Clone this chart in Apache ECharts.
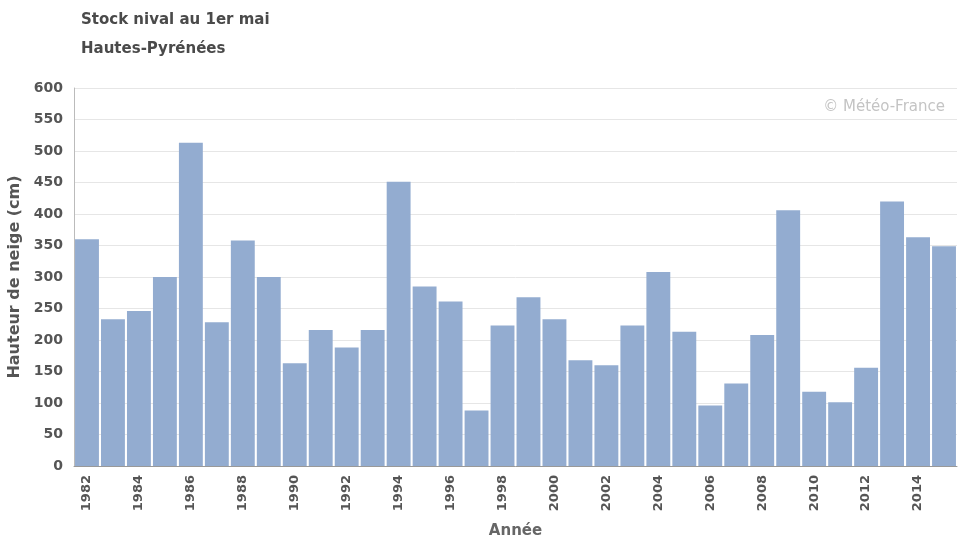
<!DOCTYPE html>
<html>
<head>
<meta charset="utf-8">
<script src="https://cdn.jsdelivr.net/npm/echarts@6/dist/echarts.min.js"></script>
<style>
html,body{margin:0;padding:0;background:#fff;}
#chart{width:958px;height:539px;}
</style>
</head>
<body>
<div id="chart"></div>
<script>
var years = ['1982','1983','1984','1985','1986','1987','1988','1989','1990','1991','1992','1993','1994','1995','1996','1997','1998','1999','2000','2001','2002','2003','2004','2005','2006','2007','2008','2009','2010','2011','2012','2013','2014','2015'];
var snowDepth = [360,233,246,300,513,228,358,300,163,216,188,216,451,285,261,88,223,268,233,168,160,223,308,213,96,131,208,406,118,101,156,420,363,349];
var yTicks = {min:0, max:600, interval:50};

var FONT = 'DejaVu Sans';
var chart = echarts.init(document.getElementById('chart'));
chart.setOption({
  animation:false,
  backgroundColor:'#ffffff',
  title:[
    {text:'Stock nival au 1er mai', left:76, top:8, textStyle:{fontFamily:FONT,fontSize:15,fontWeight:'bold',color:'#4a4a4a'}},
    {text:'Hautes-Pyrénées', left:76, top:37, textStyle:{fontFamily:FONT,fontSize:15,fontWeight:'bold',color:'#4a4a4a'}},
    {text:'© Météo-France', right:8, top:95, textStyle:{fontFamily:FONT,fontSize:15,fontWeight:'normal',color:'#c4c4c4'}}
  ],
  grid:{left:74, right:1, top:88, bottom:73, containLabel:false, outerBoundsMode:'none'},
  xAxis:{
    type:'category',
    data:years,
    name:'Année',
    nameLocation:'middle',
    nameGap:58,
    nameTextStyle:{fontFamily:FONT,fontSize:15,fontWeight:'bold',color:'#666'},
    axisLine:{show:true,lineStyle:{color:'#999',width:1}},
    axisTick:{show:false},
    axisLabel:{interval:1, rotate:90, margin:9, fontFamily:FONT,fontSize:13,fontWeight:'bold',color:'#555'}
  },
  yAxis:{
    type:'value',
    min:yTicks.min, max:yTicks.max, interval:yTicks.interval,
    name:'Hauteur de neige (cm)',
    nameLocation:'middle',
    nameGap:50,
    nameRotate:90,
    nameTextStyle:{fontFamily:FONT,fontSize:16,fontWeight:'bold',color:'#555'},
    axisLine:{show:true,lineStyle:{color:'#bbb',width:1}},
    axisTick:{show:false},
    axisLabel:{margin:11,fontFamily:FONT,fontSize:14,fontWeight:'bold',color:'#555'},
    splitLine:{show:true,lineStyle:{color:'#e6e6e6',width:1}}
  },
  series:[{
    type:'bar',
    data:snowDepth,
    barCategoryGap:'8%',
    itemStyle:{color:'#93acd0'}
  }]
});
</script>
</body>
</html>
